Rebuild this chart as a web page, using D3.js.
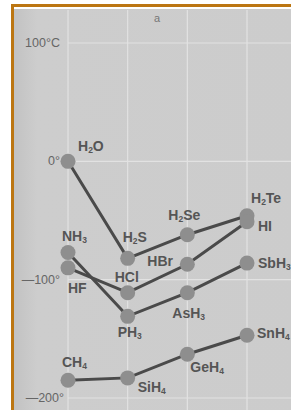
<!DOCTYPE html>
<html>
<head>
<meta charset="utf-8">
<script src="https://cdn.jsdelivr.net/npm/d3@7"></script>
<style>
  body { margin: 0; background: #fff; }
  text { font-family: "Liberation Sans", Arial, sans-serif; }
</style>
</head>
<body>
<div id="chart-area"></div>
<script>
// periods (columns) and melting points, °C
const periods = ["2", "3", "4", "5"];
const group16 = ["H2O", "H2S", "H2Se", "H2Te"];
const group16Values = [0, -82, -62, -46];
const group17 = ["HF", "HCl", "HBr", "HI"];
const group17Values = [-90, -111, -87, -51];
const group15 = ["NH3", "PH3", "AsH3", "SbH3"];
const group15Values = [-77, -131, -111, -86];
const group14 = ["CH4", "SiH4", "GeH4", "SnH4"];
const group14Values = [-185, -183, -163, -147];
const yTicks = [100, 0, -100, -200];
const yTickLabels = ["100°C", "0°", "—100°", "—200°"];

// where each label sits relative to its point
const labelOffsets = {
    H2O: [10, -15], H2S: [-5, -21], H2Se: [-19, -20], H2Te: [4, -18],
    HF: [0, 20], HCl: [-13, -16], HBr: [-40, -3], HI: [11, 4],
    NH3: [-6, -16], PH3: [-10, 16], AsH3: [-15, 20], SbH3: [11, 0],
    CH4: [-6, -18], SiH4: [10, 9], GeH4: [3, 13], SnH4: [10, -2]
};

const W = 291, H = 410;
const svg = d3.select("#chart-area")
    .append("svg")
    .attr("width", W)
    .attr("height", H);

const x = d3.scalePoint().domain(periods).range([68, 247]);
const y = d3.scaleLinear().domain([-200, 100]).range([398, 43]);

// panel background, a bit darker right by the frame
const grad = svg.append("defs").append("linearGradient")
    .attr("id", "bg").attr("x1", 0).attr("x2", 1).attr("y1", 0).attr("y2", 0);
grad.append("stop").attr("offset", "0%").attr("stop-color", "#c2c2c2");
grad.append("stop").attr("offset", "8%").attr("stop-color", "#cdcdcd");
grad.append("stop").attr("offset", "100%").attr("stop-color", "#cccccc");

svg.append("rect")
    .attr("x", 14).attr("y", 9)
    .attr("width", W).attr("height", H)
    .attr("fill", "url(#bg)");

// orange frame
svg.append("path")
    .attr("d", "M12.5," + H + " V5.5 H" + W)
    .attr("fill", "none")
    .attr("stroke", "#bc7612")
    .attr("stroke-width", 3);

// grid
svg.selectAll(".vgrid")
    .data(periods.concat(["6"]))
    .enter().append("line")
    .attr("class", "vgrid")
    .attr("x1", function (d, i) { return 68 + i * (x.step()); })
    .attr("x2", function (d, i) { return 68 + i * (x.step()); })
    .attr("y1", 10).attr("y2", H)
    .attr("stroke", "#e2e2e2")
    .attr("stroke-width", 1.2);

svg.selectAll(".hgrid")
    .data(yTicks)
    .enter().append("line")
    .attr("class", "hgrid")
    .attr("x1", 68).attr("x2", W)
    .attr("y1", function (d) { return y(d); })
    .attr("y2", function (d) { return y(d); })
    .attr("stroke", "#e2e2e2")
    .attr("stroke-width", 1.2);

svg.selectAll(".ylab")
    .data(yTicks)
    .enter().append("text")
    .attr("class", "ylab")
    .attr("x", function (d, i) { return i == 3 ? 64 : 60; })
    .attr("y", function (d) { return y(d) + 4; })
    .attr("text-anchor", "end")
    .attr("font-size", 12.5)
    .attr("fill", "#666")
    .text(function (d, i) { return yTickLabels[i]; });

svg.append("text")
    .attr("x", 157).attr("y", 22)
    .attr("text-anchor", "middle")
    .attr("font-size", 11)
    .attr("fill", "#777")
    .text("a");

const series = [
    { names: group16, values: group16Values },
    { names: group17, values: group17Values },
    { names: group15, values: group15Values },
    { names: group14, values: group14Values }
];

const line = d3.line()
    .x(function (d, i) { return x(periods[i]); })
    .y(function (d) { return y(d); });

svg.selectAll(".series")
    .data(series)
    .enter().append("path")
    .attr("class", "series")
    .attr("d", function (s) { return line(s.values); })
    .attr("fill", "none")
    .attr("stroke", "#4a4a4a")
    .attr("stroke-width", 3);

const points = [];
series.forEach(function (s) {
    s.values.forEach(function (v, i) {
        points.push({ name: s.names[i], period: periods[i], value: v });
    });
});

svg.selectAll(".dot")
    .data(points)
    .enter().append("circle")
    .attr("class", "dot")
    .attr("cx", function (d) { return x(d.period); })
    .attr("cy", function (d) { return y(d.value); })
    .attr("r", 7.5)
    .attr("fill", "#8e8e8e");

// labels with subscript digits
const labels = svg.selectAll(".lab")
    .data(points)
    .enter().append("text")
    .attr("class", "lab")
    .attr("x", function (d) { return x(d.period) + labelOffsets[d.name][0]; })
    .attr("y", function (d) { return y(d.value) + labelOffsets[d.name][1] + 5; })
    .attr("font-size", 14)
    .attr("font-weight", "bold")
    .attr("fill", "#555");

labels.each(function (d) {
    const t = d3.select(this);
    const parts = d.name.match(/[A-Za-z]+|\d+/g);
    let sub = false;
    parts.forEach(function (p) {
        const isNum = /\d/.test(p);
        t.append("tspan")
            .attr("font-size", isNum ? 8.5 : 14)
            .attr("dy", isNum ? (sub ? 0 : 2) : (sub ? -2 : 0))
            .text(p);
        sub = isNum;
    });
});
</script>
</body>
</html>
